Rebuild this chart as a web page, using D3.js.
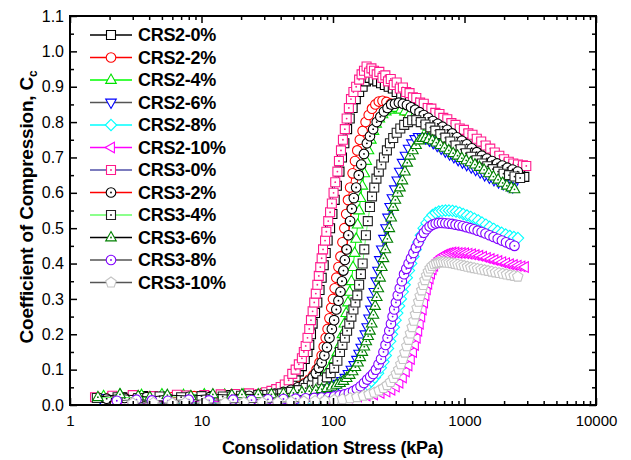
<!DOCTYPE html>
<html><head><meta charset="utf-8">
<script src="https://cdn.jsdelivr.net/npm/d3@7"></script>
<style>body{margin:0;background:#fff}svg{display:block}text{font-family:Arial,"Liberation Sans",sans-serif;fill:#000}</style>
</head><body><svg id="c" width="631" height="460"></svg>
<script>
// ---- data: [consolidation stress (kPa), Cc] ----
const crs2_0 = [[1.7,0.02],[2.5,0.022],[3.6,0.025],[5.2,0.024],[7.5,0.026],[11,0.025],[16,0.028],[22,0.03],[28,0.03],[33,0.034],[37,0.04],[41,0.047],[45,0.055],[49,0.068],[52,0.08],[55,0.095],[58,0.11],[61,0.13],[64,0.15],[66,0.17],[68,0.2],[70,0.23],[73,0.26],[76,0.29],[79,0.325],[82,0.36],[85,0.395],[88,0.43],[91,0.465],[95,0.5],[99,0.54],[103,0.58],[107,0.62],[112,0.66],[117,0.7],[122,0.74],[128,0.78],[134,0.81],[141,0.84],[149,0.865],[158,0.885],[168,0.9],[178,0.915],[190,0.925],[203,0.92],[217,0.915],[232,0.91],[248,0.905],[265,0.9],[285,0.895],[305,0.885],[330,0.875],[355,0.87],[385,0.86],[415,0.85],[450,0.84],[490,0.83],[530,0.82],[575,0.81],[625,0.8],[680,0.79],[740,0.78],[810,0.77],[885,0.76],[970,0.75],[1060,0.74],[1160,0.73],[1270,0.72],[1390,0.71],[1520,0.7],[1670,0.69],[1830,0.675],[2000,0.665],[2200,0.66],[2420,0.655],[2650,0.65],[2850,0.645]];
const crs2_2 = [[2.0,0.022],[2.9,0.02],[4.2,0.023],[6,0.022],[8.8,0.025],[12.5,0.024],[18,0.026],[25,0.028],[32,0.03],[38,0.034],[44,0.039],[50,0.045],[56,0.053],[61,0.062],[66,0.072],[71,0.085],[75,0.1],[79,0.12],[82,0.14],[85,0.165],[88,0.19],[91,0.215],[94,0.245],[97,0.275],[100,0.3],[103,0.33],[106,0.36],[110,0.39],[114,0.42],[118,0.46],[122,0.5],[126,0.54],[130,0.58],[135,0.615],[141,0.655],[147,0.69],[153,0.72],[160,0.75],[168,0.775],[177,0.8],[187,0.82],[198,0.838],[210,0.85],[223,0.858],[238,0.86],[255,0.857],[275,0.852],[297,0.846],[322,0.84],[350,0.832],[382,0.823],[418,0.813],[458,0.803],[502,0.793],[552,0.782],[607,0.772],[668,0.762],[735,0.752],[810,0.742],[893,0.732],[985,0.722],[1087,0.712],[1200,0.703],[1325,0.695],[1465,0.688],[1620,0.681],[1790,0.675],[1980,0.669],[2190,0.663],[2420,0.658]];
const crs2_4 = [[1.8,0.025],[2.4,0.03],[3.5,0.028],[5,0.03],[7.3,0.028],[10.5,0.03],[15,0.029],[21,0.03],[28,0.03],[35,0.031],[42,0.032],[50,0.035],[58,0.04],[66,0.048],[74,0.06],[82,0.075],[89,0.09],[96,0.11],[102,0.13],[108,0.15],[113,0.17],[118,0.2],[122,0.23],[126,0.26],[130,0.29],[134,0.32],[138,0.35],[142,0.39],[146,0.43],[150,0.47],[154,0.51],[158,0.55],[162,0.585],[167,0.62],[173,0.655],[179,0.69],[186,0.72],[194,0.75],[203,0.775],[213,0.795],[225,0.81],[238,0.822],[252,0.83],[268,0.835],[285,0.84],[305,0.84],[328,0.835],[352,0.83],[380,0.822],[410,0.815],[445,0.806],[485,0.797],[530,0.787],[580,0.777],[635,0.767],[700,0.757],[770,0.747],[850,0.738],[940,0.729],[1040,0.72],[1150,0.712],[1270,0.706],[1400,0.702],[1550,0.7],[1720,0.698],[1900,0.696]];
const crs2_6 = [[1.7,0.02],[2.5,0.018],[3.6,0.022],[5.3,0.02],[7.6,0.023],[11,0.022],[16,0.025],[22,0.026],[30,0.027],[38,0.028],[46,0.03],[54,0.032],[62,0.034],[70,0.037],[78,0.04],[86,0.044],[94,0.048],[102,0.053],[110,0.06],[117,0.068],[124,0.077],[131,0.088],[138,0.1],[145,0.113],[152,0.128],[158,0.145],[164,0.162],[170,0.18],[176,0.2],[182,0.22],[188,0.245],[194,0.27],[200,0.295],[206,0.32],[213,0.35],[220,0.38],[227,0.41],[235,0.44],[244,0.47],[253,0.5],[262,0.53],[272,0.56],[283,0.585],[295,0.61],[308,0.635],[322,0.66],[338,0.685],[356,0.705],[376,0.725],[398,0.74],[422,0.752],[448,0.758],[476,0.758],[507,0.754],[541,0.748],[578,0.741],[620,0.733],[665,0.725],[715,0.717],[770,0.709],[830,0.701],[895,0.693],[965,0.686],[1040,0.679],[1125,0.672],[1215,0.665],[1315,0.658],[1425,0.65],[1545,0.643],[1675,0.636],[1815,0.63],[1970,0.625],[2140,0.62],[2330,0.616]];
const crs2_8 = [[2.4,0.01],[3.4,0.012],[4.6,0.01],[6.5,0.013],[9.5,0.011],[13.5,0.012],[19,0.013],[26,0.012],[35,0.014],[45,0.015],[56,0.016],[67,0.017],[78,0.018],[89,0.019],[100,0.02],[112,0.022],[124,0.025],[136,0.029],[148,0.034],[160,0.04],[172,0.048],[184,0.057],[196,0.067],[208,0.078],[220,0.09],[231,0.105],[242,0.122],[252,0.14],[262,0.16],[272,0.18],[281,0.2],[290,0.22],[299,0.24],[308,0.26],[318,0.28],[328,0.3],[339,0.32],[351,0.34],[364,0.36],[378,0.38],[393,0.4],[409,0.42],[426,0.44],[445,0.46],[466,0.48],[489,0.5],[514,0.515],[541,0.527],[571,0.537],[603,0.543],[638,0.547],[676,0.549],[717,0.55],[762,0.55],[810,0.549],[862,0.547],[918,0.544],[978,0.54],[1043,0.536],[1113,0.532],[1188,0.527],[1270,0.522],[1358,0.516],[1453,0.51],[1556,0.504],[1668,0.498],[1788,0.492],[1918,0.487],[2058,0.482],[2210,0.478],[2375,0.475],[2550,0.472]];
const crs2_10 = [[2.6,0.008],[3.8,0.01],[5.5,0.009],[8,0.011],[11.5,0.009],[17,0.011],[24,0.012],[33,0.013],[44,0.014],[57,0.015],[72,0.016],[90,0.017],[110,0.019],[132,0.021],[155,0.024],[180,0.027],[205,0.03],[230,0.034],[255,0.038],[278,0.043],[300,0.052],[320,0.063],[340,0.078],[358,0.095],[375,0.112],[391,0.13],[406,0.15],[420,0.17],[433,0.19],[445,0.21],[457,0.23],[469,0.25],[481,0.27],[493,0.29],[505,0.31],[517,0.327],[530,0.343],[543,0.358],[557,0.372],[572,0.384],[588,0.394],[606,0.403],[626,0.41],[648,0.416],[672,0.421],[700,0.425],[732,0.428],[768,0.43],[808,0.431],[852,0.431],[900,0.43],[952,0.43],[1010,0.429],[1072,0.428],[1140,0.426],[1214,0.424],[1295,0.422],[1383,0.419],[1478,0.416],[1580,0.413],[1690,0.41],[1808,0.407],[1935,0.404],[2070,0.401],[2215,0.398],[2370,0.396],[2535,0.394],[2710,0.392],[2880,0.39]];
const crs3_0 = [[1.55,0.022],[2.1,0.026],[3.0,0.028],[4.3,0.025],[6.5,0.029],[7.7,0.027],[10.5,0.028],[14,0.03],[18,0.031],[23,0.033],[27.8,0.031],[31,0.036],[34,0.04],[37,0.045],[40,0.051],[43,0.058],[46,0.07],[49,0.088],[52,0.1],[55,0.115],[58,0.132],[60,0.15],[62,0.167],[64,0.19],[66,0.215],[68,0.24],[70,0.265],[72,0.29],[74,0.315],[76,0.34],[78,0.365],[80,0.39],[82,0.415],[84,0.44],[87,0.465],[89,0.49],[92,0.52],[95,0.545],[98,0.57],[101,0.6],[104,0.63],[108,0.66],[111,0.69],[115,0.72],[119,0.75],[123,0.78],[127,0.81],[132,0.84],[137,0.865],[143,0.885],[150,0.9],[158,0.92],[165,0.935],[172,0.945],[180,0.957],[188,0.94],[196,0.952],[205,0.945],[215,0.935],[225,0.942],[238,0.925],[250,0.932],[262,0.915],[275,0.922],[290,0.905],[305,0.912],[322,0.895],[340,0.898],[360,0.885],[382,0.882],[405,0.87],[430,0.868],[460,0.855],[490,0.852],[525,0.84],[560,0.838],[600,0.826],[645,0.823],[690,0.812],[740,0.808],[795,0.797],[855,0.792],[920,0.782],[990,0.778],[1070,0.768],[1150,0.764],[1240,0.753],[1340,0.745],[1450,0.734],[1570,0.725],[1700,0.714],[1840,0.705],[2000,0.695],[2170,0.688],[2350,0.683],[2550,0.68],[2780,0.678],[2950,0.676]];
const crs3_2 = [[1.9,0.018],[2.6,0.02],[3.8,0.022],[5.5,0.02],[8,0.023],[11.5,0.022],[16.5,0.024],[23,0.026],[30,0.028],[36,0.032],[42,0.037],[48,0.043],[54,0.05],[60,0.058],[65,0.067],[70,0.078],[74,0.09],[78,0.105],[82,0.12],[86,0.14],[90,0.163],[94,0.19],[98,0.215],[102,0.24],[106,0.27],[110,0.295],[114,0.32],[117,0.35],[120,0.38],[123,0.41],[127,0.44],[131,0.48],[135,0.52],[139,0.555],[144,0.585],[150,0.615],[157,0.65],[164,0.68],[172,0.71],[181,0.74],[191,0.76],[202,0.78],[215,0.8],[229,0.815],[244,0.83],[260,0.84],[277,0.85],[296,0.852],[317,0.855],[340,0.852],[365,0.848],[392,0.842],[422,0.835],[455,0.828],[490,0.82],[530,0.812],[575,0.803],[625,0.795],[680,0.787],[740,0.778],[805,0.768],[875,0.757],[955,0.747],[1040,0.737],[1135,0.726],[1240,0.715],[1355,0.705],[1480,0.697],[1620,0.69],[1770,0.683],[1940,0.677],[2120,0.671],[2320,0.666],[2540,0.66]];
const crs3_4 = [[1.6,0.02],[2.3,0.022],[3.3,0.02],[4.8,0.024],[7,0.022],[10,0.025],[14.5,0.024],[20,0.026],[27,0.028],[34,0.03],[41,0.033],[48,0.037],[55,0.042],[62,0.048],[69,0.055],[76,0.062],[83,0.07],[90,0.078],[96,0.09],[102,0.105],[108,0.125],[113,0.15],[118,0.17],[123,0.19],[128,0.21],[133,0.23],[138,0.25],[143,0.27],[148,0.29],[153,0.31],[158,0.34],[163,0.37],[168,0.4],[173,0.44],[178,0.48],[184,0.52],[191,0.56],[198,0.59],[206,0.615],[214,0.64],[223,0.66],[233,0.68],[244,0.7],[257,0.72],[271,0.74],[287,0.755],[305,0.77],[325,0.782],[348,0.792],[372,0.8],[400,0.805],[430,0.805],[465,0.8],[505,0.793],[550,0.785],[600,0.776],[655,0.766],[715,0.756],[780,0.745],[855,0.734],[935,0.723],[1025,0.712],[1125,0.702],[1235,0.692],[1355,0.683],[1490,0.675],[1640,0.667],[1800,0.66],[1980,0.654],[2180,0.65],[2400,0.646],[2650,0.642]];
const crs3_6 = [[1.63,0.022],[2.4,0.03],[3.3,0.025],[4.05,0.022],[5.5,0.028],[8.3,0.025],[12.2,0.03],[17,0.028],[20.3,0.03],[27,0.03],[34,0.03],[42,0.032],[50,0.034],[58,0.036],[66,0.039],[74,0.042],[82,0.045],[90,0.048],[98,0.052],[106,0.057],[113,0.062],[120,0.068],[127,0.076],[134,0.085],[141,0.095],[148,0.107],[155,0.12],[161,0.135],[167,0.15],[173,0.165],[179,0.18],[185,0.195],[191,0.21],[197,0.23],[203,0.255],[209,0.28],[215,0.305],[221,0.33],[228,0.36],[235,0.39],[242,0.415],[250,0.44],[259,0.47],[268,0.5],[277,0.53],[287,0.56],[298,0.58],[310,0.6],[323,0.615],[337,0.635],[352,0.66],[367,0.685],[385,0.705],[405,0.72],[428,0.735],[452,0.748],[478,0.755],[505,0.755],[535,0.752],[570,0.748],[610,0.742],[655,0.735],[705,0.727],[760,0.72],[820,0.712],[885,0.705],[955,0.698],[1030,0.692],[1110,0.686],[1200,0.68],[1300,0.673],[1410,0.665],[1530,0.655],[1660,0.646],[1800,0.637],[1950,0.628],[2100,0.62],[2270,0.615],[2400,0.61]];
const crs3_8 = [[2.27,0.012],[3.2,0.015],[4.2,0.013],[5.55,0.012],[8,0.015],[11.4,0.013],[17.4,0.015],[24,0.014],[32,0.016],[42,0.017],[52,0.018],[62,0.019],[72,0.02],[82,0.021],[92,0.022],[102,0.024],[112,0.027],[122,0.03],[132,0.034],[142,0.039],[152,0.045],[162,0.053],[172,0.062],[182,0.072],[192,0.08],[202,0.088],[212,0.1],[222,0.115],[232,0.13],[242,0.15],[251,0.17],[260,0.19],[268,0.21],[276,0.23],[284,0.25],[292,0.27],[301,0.29],[311,0.31],[322,0.33],[334,0.35],[347,0.37],[361,0.385],[376,0.4],[392,0.415],[409,0.43],[427,0.445],[447,0.46],[468,0.475],[491,0.487],[516,0.497],[543,0.505],[572,0.51],[604,0.513],[638,0.515],[675,0.515],[715,0.514],[758,0.513],[805,0.512],[855,0.51],[910,0.508],[970,0.506],[1035,0.503],[1105,0.5],[1180,0.497],[1260,0.493],[1350,0.489],[1445,0.485],[1550,0.48],[1665,0.475],[1790,0.47],[1925,0.465],[2070,0.46],[2230,0.455],[2400,0.45]];
const crs3_10 = [[3.0,0.005],[4.3,0.006],[6,0.005],[7.5,0.006],[10.5,0.005],[15.1,0.006],[21,0.007],[29,0.007],[38,0.008],[48,0.009],[60,0.01],[73,0.011],[87,0.012],[102,0.014],[118,0.016],[135,0.019],[152,0.022],[170,0.026],[188,0.03],[206,0.035],[224,0.041],[242,0.048],[258,0.056],[274,0.065],[289,0.076],[303,0.088],[316,0.1],[328,0.115],[340,0.13],[352,0.148],[364,0.166],[376,0.184],[388,0.202],[400,0.22],[412,0.238],[424,0.256],[436,0.274],[448,0.292],[460,0.308],[473,0.324],[486,0.339],[500,0.353],[515,0.366],[531,0.377],[548,0.386],[567,0.393],[588,0.398],[611,0.401],[636,0.403],[664,0.404],[694,0.404],[727,0.403],[763,0.402],[802,0.401],[845,0.399],[891,0.397],[941,0.395],[995,0.393],[1053,0.391],[1116,0.389],[1184,0.387],[1257,0.385],[1336,0.383],[1421,0.381],[1513,0.379],[1612,0.377],[1718,0.375],[1832,0.373],[1955,0.371],[2087,0.369],[2229,0.367],[2382,0.365],[2540,0.363]];

const seriesNames = ["CRS2-0%","CRS2-2%","CRS2-4%","CRS2-6%","CRS2-8%","CRS2-10%","CRS3-0%","CRS3-2%","CRS3-4%","CRS3-6%","CRS3-8%","CRS3-10%"];
const seriesData = [crs2_0,crs2_2,crs2_4,crs2_6,crs2_8,crs2_10,crs3_0,crs3_2,crs3_4,crs3_6,crs3_8,crs3_10];
const xTickLabels = [1,10,100,1000,10000];
const yTickLabels = [0,0.1,0.2,0.3,0.4,0.5,0.6,0.7,0.8,0.9,1.0,1.1];

// ---- styles ----
const styles = [
  {shape:"square",  color:"#000000", line:"#000000", dot:false},
  {shape:"circle",  color:"#ff0000", line:"#ff0000", dot:false},
  {shape:"triUp",   color:"#00e000", line:"#00ff00", dot:false},
  {shape:"triDown", color:"#0000ff", line:"#555555", dot:false},
  {shape:"diamond", color:"#00ffff", line:"#00ffff", dot:false},
  {shape:"triLeft", color:"#ff00ff", line:"#ff00ff", dot:false},
  {shape:"square",  color:"#ff1a8c", line:"#5050a8", dot:true},
  {shape:"circle",  color:"#000000", line:"#ff0000", dot:true},
  {shape:"square",  color:"#222222", line:"#66ff66", dot:true},
  {shape:"triUp",   color:"#008000", line:"#000000", dot:true},
  {shape:"circle",  color:"#8000ff", line:"#555555", dot:true},
  {shape:"pentagon",color:"#c4c4c4", line:"#555555", dot:false}
];

const shapePaths = {
  square: "M-4.5,-4.5H4.5V4.5H-4.5Z",
  triUp: "M0,-5.9L5.3,3.4L-5.3,3.4Z",
  triDown: "M0,5.9L5.3,-3.4L-5.3,-3.4Z",
  triLeft: "M-5.9,0L3.4,-5.3L3.4,5.3Z",
  diamond: "M0,-5.7L5.7,0L0,5.7L-5.7,0Z",
  pentagon: (()=>{let p=[];for(let k=0;k<5;k++){const a=-Math.PI/2+k*2*Math.PI/5;p.push([5.5*Math.cos(a),5.5*Math.sin(a)]);}return "M"+p.map(q=>q[0].toFixed(2)+","+q[1].toFixed(2)).join("L")+"Z";})()
};

const svg = d3.select("#c");
const L=70,R=596,T=16,B=405;
const x = d3.scaleLog().domain([1,10000]).range([L,R]);
const y = d3.scaleLinear().domain([0,1.1]).range([B,T]);

svg.append("clipPath").attr("id","clip").append("rect").attr("x",L).attr("y",T).attr("width",R-L).attr("height",B-T);

function drawMarker(sel, st){
  if(st.shape==="circle"){
    sel.append("circle").attr("r",4.8);
  } else {
    sel.append("path").attr("d",shapePaths[st.shape]);
  }
  sel.selectAll("circle,path").attr("fill","#fff").attr("stroke",st.color).attr("stroke-width",1.1);
  if(st.dot) sel.append("circle").attr("r",0.9).attr("fill",st.color).attr("stroke","none");
}

const plot = svg.append("g").attr("clip-path","url(#clip)");
seriesData.forEach((data,i)=>{
  const st = styles[i];
  const g = plot.append("g");
  g.append("path").datum(data)
    .attr("d", d3.line().x(d=>x(d[0])).y(d=>y(d[1])))
    .attr("fill","none").attr("stroke",st.line).attr("stroke-width",1);
  g.selectAll("g.m").data(data).join("g").attr("class","m")
    .attr("transform", d=>`translate(${x(d[0])},${y(d[1])})`)
    .each(function(){ drawMarker(d3.select(this), st); });
});

// ---- axes ----
const xMinor = [];
for(let e=0;e<4;e++) for(let m=2;m<=9;m++) xMinor.push(m*Math.pow(10,e));
const yMinor = d3.range(0.05,1.1,0.1);

function styleAxis(g){
  g.select(".domain").remove();
  g.selectAll(".tick line").attr("stroke","#000").attr("stroke-width",1.5);
  g.selectAll("text").attr("fill","#000");
}
svg.append("g").attr("transform",`translate(0,${B})`)
  .call(d3.axisBottom(x).tickValues(xTickLabels).tickSizeInner(-7).tickSizeOuter(0).tickPadding(10).tickFormat(d3.format("d")))
  .call(styleAxis).selectAll("text").attr("font-size",15).attr("font-family",'Arial,"Liberation Sans",sans-serif');
svg.append("g").attr("transform",`translate(0,${B})`)
  .call(d3.axisBottom(x).tickValues(xMinor).tickSizeInner(-4).tickSizeOuter(0).tickFormat(""))
  .call(styleAxis);
svg.append("g").attr("transform",`translate(0,${T})`)
  .call(d3.axisTop(x).tickValues(xTickLabels).tickSizeInner(-7).tickSizeOuter(0).tickFormat(""))
  .call(styleAxis);
svg.append("g").attr("transform",`translate(0,${T})`)
  .call(d3.axisTop(x).tickValues(xMinor).tickSizeInner(-4).tickSizeOuter(0).tickFormat(""))
  .call(styleAxis);
svg.append("g").attr("transform",`translate(${L},0)`)
  .call(d3.axisLeft(y).tickValues(yTickLabels).tickSizeInner(-7).tickSizeOuter(0).tickPadding(6).tickFormat(d3.format(".1f")))
  .call(styleAxis).selectAll("text").attr("font-size",16).attr("font-family",'Arial,"Liberation Sans",sans-serif');
svg.append("g").attr("transform",`translate(${L},0)`)
  .call(d3.axisLeft(y).tickValues(yMinor).tickSizeInner(-4).tickSizeOuter(0).tickFormat(""))
  .call(styleAxis);
svg.append("g").attr("transform",`translate(${R},0)`)
  .call(d3.axisRight(y).tickValues(yTickLabels).tickSizeInner(-7).tickSizeOuter(0).tickFormat(""))
  .call(styleAxis);
svg.append("g").attr("transform",`translate(${R},0)`)
  .call(d3.axisRight(y).tickValues(yMinor).tickSizeInner(-4).tickSizeOuter(0).tickFormat(""))
  .call(styleAxis);

svg.append("rect").attr("x",L).attr("y",T).attr("width",R-L).attr("height",B-T)
  .attr("fill","none").attr("stroke","#000").attr("stroke-width",2);

// ---- titles ----
svg.append("text").attr("x",332.5).attr("y",454).attr("text-anchor","middle")
  .attr("font-weight","bold").attr("font-size",18).attr("letter-spacing","-0.3")
  .text("Consolidation Stress (kPa)");
const yt = svg.append("text").attr("transform","translate(33,207) rotate(-90)")
  .attr("text-anchor","middle").attr("font-weight","bold").attr("font-size",19).attr("letter-spacing","-0.2");
yt.append("tspan").text("Coefficient of Compression, C");
yt.append("tspan").attr("font-size",12).attr("dy",4).text("c");

// ---- legend ----
const lg = svg.append("g");
seriesNames.forEach((name,i)=>{
  const st = styles[i];
  const yy = 35 + i*22.5;
  lg.append("line").attr("x1",90).attr("x2",132).attr("y1",yy).attr("y2",yy)
    .attr("stroke",st.line).attr("stroke-width",1.5);
  drawMarker(lg.append("g").attr("transform",`translate(111,${yy})`), st);
  lg.append("text").attr("x",138).attr("y",yy).attr("dy","0.36em")
    .attr("font-weight","bold").attr("font-size",18).attr("letter-spacing","-0.3").text(name);
});
</script>
</body></html>
